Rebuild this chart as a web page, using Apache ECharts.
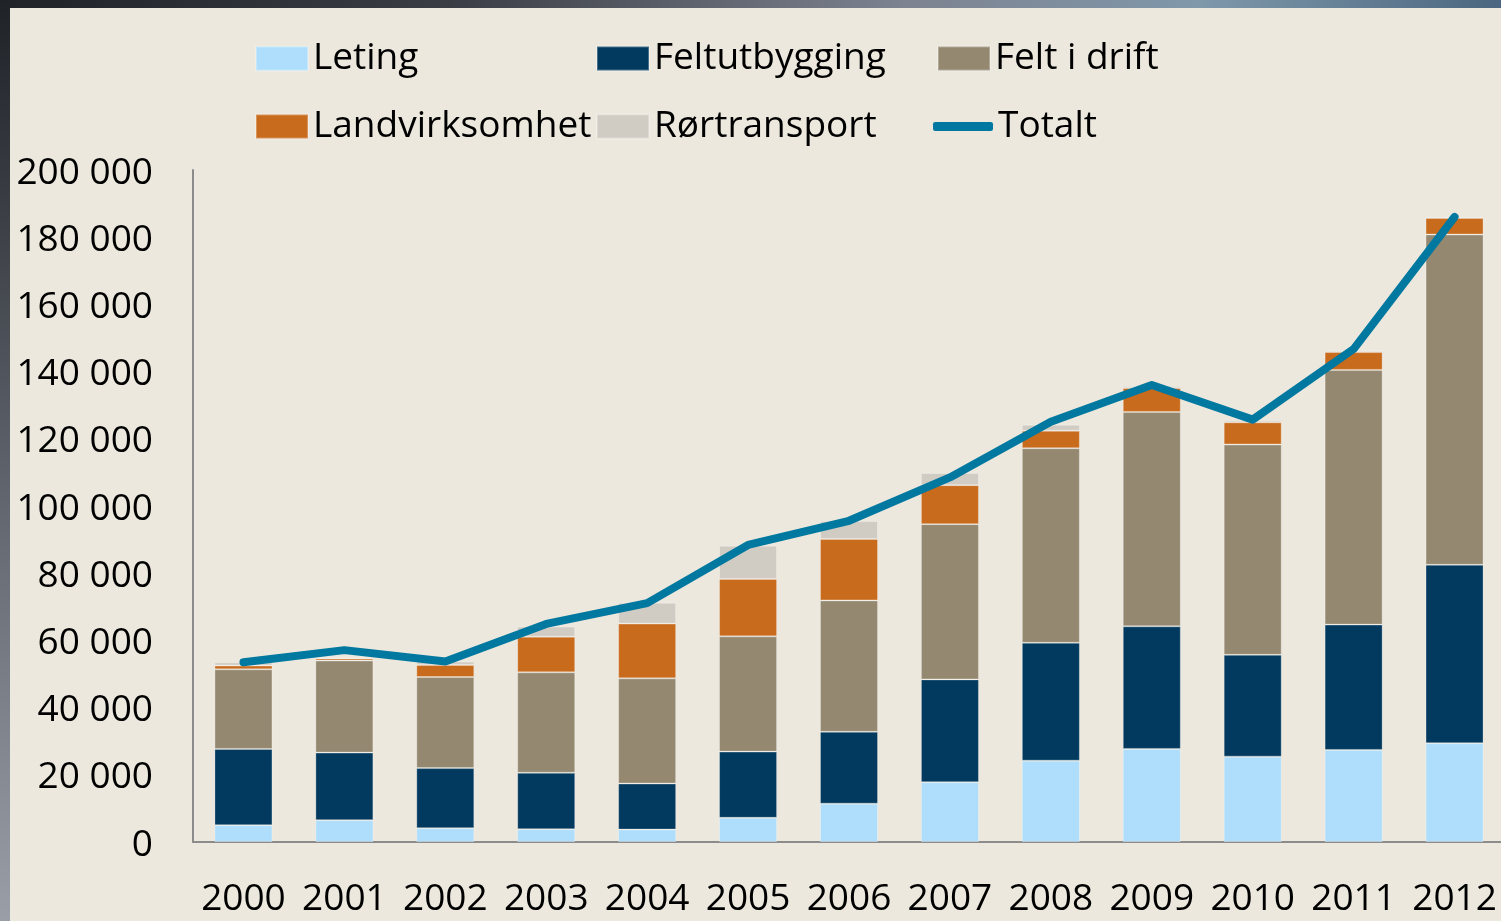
<!DOCTYPE html>
<html>
<head>
<meta charset="utf-8">
<script src="https://cdn.jsdelivr.net/npm/echarts@6/dist/echarts.min.js"></script>
<style>
html,body{margin:0;padding:0;background:#ECE8DE;}
#chart{width:1501px;height:921px;}
</style>
</head>
<body>
<div id="chart"></div>
<script>
const years = ['2000','2001','2002','2003','2004','2005','2006','2007','2008','2009','2010','2011','2012'];
const leting = [5000, 6500, 4100, 3800, 3700, 7200, 11400, 17800, 24200, 27700, 25400, 27400, 29400];
const feltutbygging = [22700, 20100, 17900, 16800, 13700, 19700, 21400, 30600, 35100, 36500, 30300, 37300, 53100];
const feltIDrift = [23700, 27400, 27100, 29900, 31300, 34300, 39100, 46200, 57900, 63800, 62600, 75800, 98300];
const landvirksomhet = [1100, 600, 3600, 10600, 16300, 17100, 18300, 11600, 5200, 7100, 6600, 5300, 4900];
const rortransport = [1000, 400, 1000, 3000, 6200, 9900, 5300, 3600, 1800, 600, 600, 500, 400];
const totalt = [53500, 57100, 53700, 64900, 71100, 88400, 95600, 108500, 125100, 136000, 125700, 146700, 186000];
const yTicks = {min: 0, max: 200000, interval: 20000};

const FONT = '"Open Sans", "DejaVu Sans", sans-serif';
const FS = 37;
const chart = echarts.init(document.getElementById('chart'), null, {renderer: 'canvas'});

const barBorder = {borderColor: 'rgba(255,255,255,0.28)', borderWidth: 1};
function bar(name, data, color) {
  return {name: name, type: 'bar', stack: 'total', data: data, barWidth: 58,
    itemStyle: Object.assign({color: color}, barBorder)};
}
function leg(name, left, top, extra) {
  return Object.assign({
    data: [name], left: left, top: top, itemWidth: 52, itemHeight: 24, itemGap: 0,
    padding: 0, icon: 'rect',
    textStyle: {fontFamily: FONT, fontSize: FS, color: '#000'}, selectedMode: false
  }, extra || {});
}

const option = {
  backgroundColor: '#ECE8DE',
  animation: false,
  graphic: [
    {type: 'rect', left: 0, top: 0, shape: {width: 1501, height: 8}, z: 100,
      style: {fill: new echarts.graphic.LinearGradient(0, 0, 1, 0, [
        {offset: 0, color: '#1f2227'}, {offset: 0.3, color: '#3a3d44'},
        {offset: 0.6, color: '#7d8290'}, {offset: 0.8, color: '#7f98aa'}, {offset: 1, color: '#4a6680'}])}},
    {type: 'rect', left: 0, top: 0, shape: {width: 10, height: 921}, z: 100,
      style: {fill: new echarts.graphic.LinearGradient(0, 0, 0, 1, [
        {offset: 0, color: '#1f2227'}, {offset: 0.5, color: '#5c6068'}, {offset: 1, color: '#9a9ea6'}])}}
  ],
  legend: [
    leg('Leting', 255, 40),
    leg('Feltutbygging', 596, 40),
    leg('Felt i drift', 937, 40),
    leg('Landvirksomhet', 255, 108),
    leg('Rørtransport', 596, 108),
    leg('Totalt', 933, 108, {itemWidth: 60, itemHeight: 9, icon: 'roundRect'})
  ],
  grid: {left: 193, width: 1312, top: 170, bottom: 79, containLabel: false, outerBoundsMode: 'none'},
  xAxis: {
    type: 'category', data: years, boundaryGap: true,
    axisLine: {show: true, lineStyle: {color: '#8c8c8c', width: 2}},
    axisTick: {show: false},
    axisLabel: {fontFamily: FONT, fontSize: FS, color: '#000', margin: 39, interval: 0}
  },
  yAxis: {
    type: 'value', min: yTicks.min, max: yTicks.max, interval: yTicks.interval,
    axisLine: {show: true, lineStyle: {color: '#8c8c8c', width: 2}},
    axisTick: {show: false},
    splitLine: {show: false},
    axisLabel: {fontFamily: FONT, fontSize: FS, color: '#000', margin: 40,
      rich: {v: {fontFamily: FONT, fontSize: FS, color: '#000', padding: [6, 0, 0, 0]}},
      formatter: function (v) { return '{v|' + String(v).replace(/\B(?=(\d{3})+(?!\d))/g, ' ') + '}'; }}
  },
  series: [
    bar('Leting', leting, '#AEDEFB'),
    bar('Feltutbygging', feltutbygging, '#023A5F'),
    bar('Felt i drift', feltIDrift, '#948870'),
    bar('Landvirksomhet', landvirksomhet, '#C96B1C'),
    bar('Rørtransport', rortransport, '#D1CCC3'),
    {name: 'Totalt', type: 'line', data: totalt, symbol: 'none', z: 10,
      itemStyle: {color: '#00789F'},
      lineStyle: {color: '#00789F', width: 8, cap: 'round', join: 'round'}}
  ]
};
chart.setOption(option);
</script>
</body>
</html>
